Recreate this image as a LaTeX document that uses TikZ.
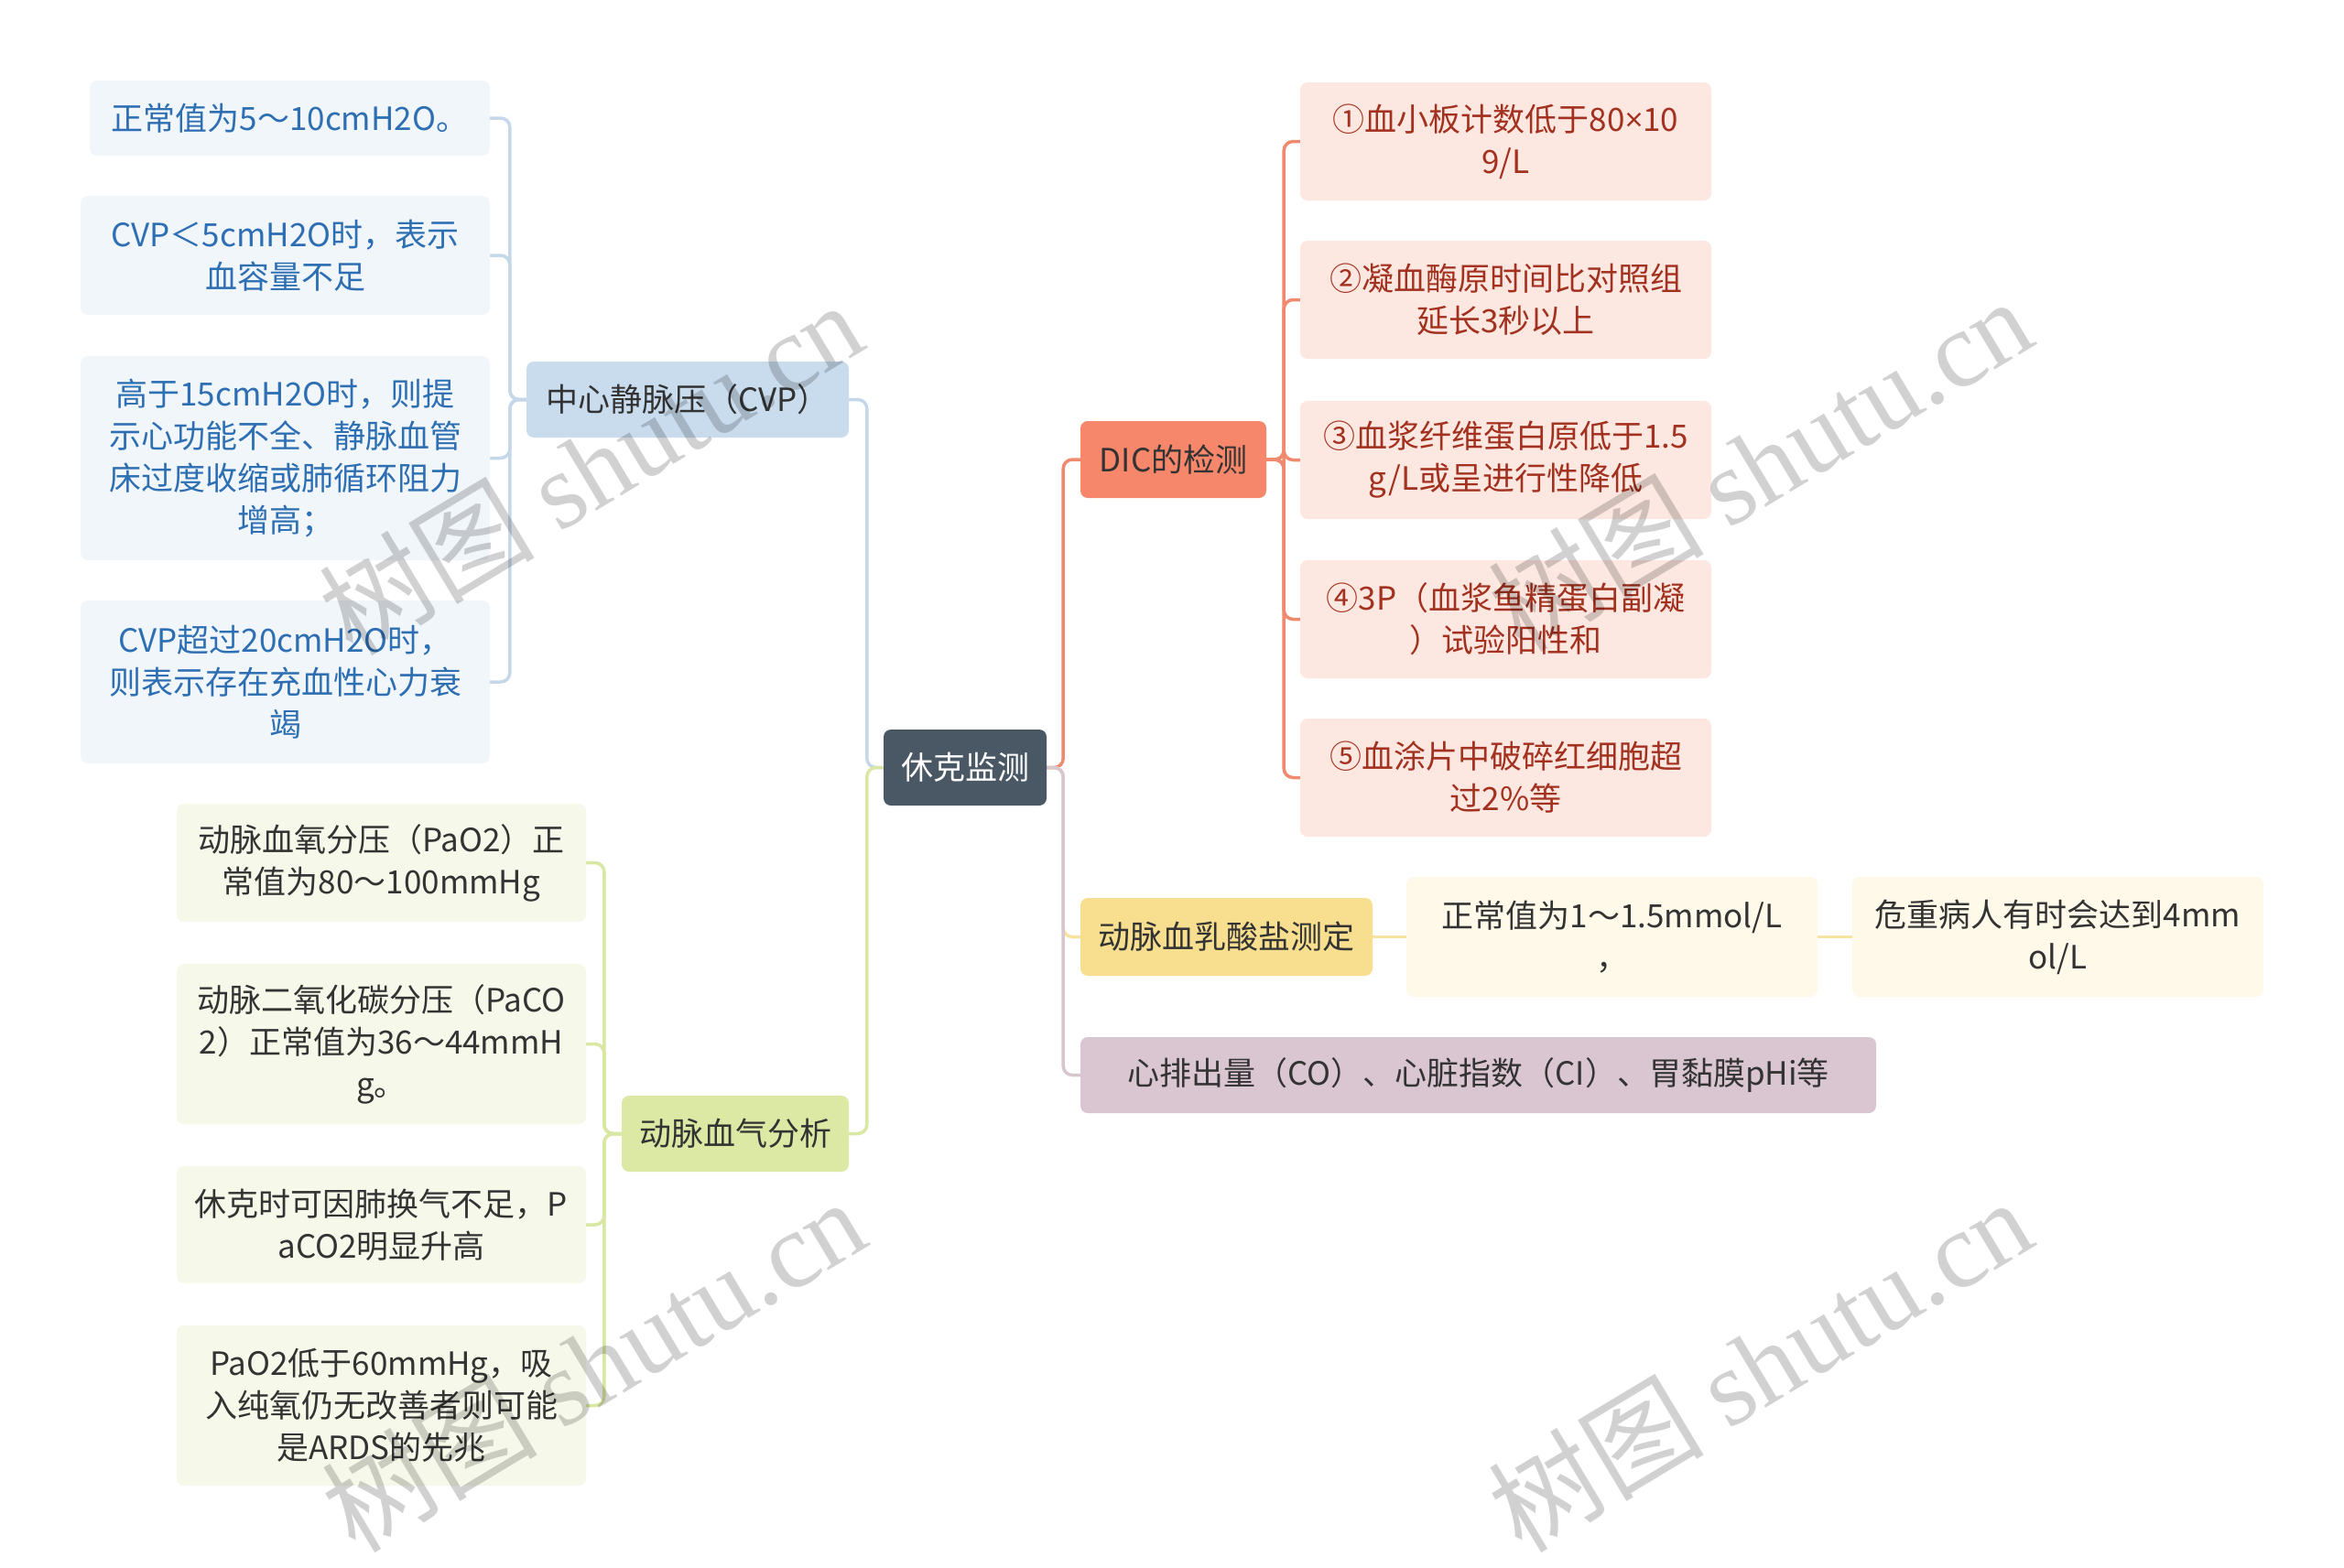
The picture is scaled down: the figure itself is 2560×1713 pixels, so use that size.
\documentclass[tikz,border=0pt]{standalone}
\usepackage{fontspec}
\setmainfont{Noto Sans CJK SC}
\newfontfamily\wmserif{Liberation Serif}
\newfontfamily\latinsans{Open Sans}
\definecolor{rootc}{HTML}{4A5866}
\definecolor{cvpc}{HTML}{C9DCEE}
\definecolor{cvpl}{HTML}{C5D8EA}
\definecolor{cvpleafc}{HTML}{F1F6FB}
\definecolor{cvptxt}{HTML}{2D6FB2}
\definecolor{gasc}{HTML}{DCE9A5}
\definecolor{gasl}{HTML}{D8E7A2}
\definecolor{gasleafc}{HTML}{F6F9EA}
\definecolor{dicc}{HTML}{F7876B}
\definecolor{dicl}{HTML}{F08A6E}
\definecolor{dicleafc}{HTML}{FDE7E1}
\definecolor{dictxt}{HTML}{A3311F}
\definecolor{lacc}{HTML}{F8DF8F}
\definecolor{lacl}{HTML}{F6E3A2}
\definecolor{lacleafc}{HTML}{FEF9E8}
\definecolor{coc}{HTML}{D9C6D0}
\definecolor{col}{HTML}{D8C6CF}
\definecolor{txt}{HTML}{333333}
\pgfdeclarelayer{paper}
\pgfdeclarelayer{lines}
\pgfsetlayers{paper,lines,main}
\begin{document}
\begin{tikzpicture}[x=1pt,y=-1pt,
  box/.style={rectangle, rounded corners=8pt, inner sep=0pt, align=center,
    font=\fontsize{35}{46}\selectfont, text=txt},
  rootbox/.style={box, fill=rootc, text=white},
  cvpbox/.style={box, fill=cvpc},
  cvpleaf/.style={box, fill=cvpleafc, text=cvptxt, minimum width=447},
  gasbox/.style={box, fill=gasc},
  gasleaf/.style={box, fill=gasleafc, minimum width=447},
  dicbox/.style={box, fill=dicc},
  dicleaf/.style={box, fill=dicleafc, text=dictxt, minimum width=449, minimum height=129},
  lacbox/.style={box, fill=lacc},
  lacleaf/.style={box, fill=lacleafc, minimum width=449, minimum height=131},
  cobox/.style={box, fill=coc},
  conn/.style={line width=3.5pt, rounded corners=10pt},
  wm/.style={text=black, text opacity=0.18, font=\fontsize{118}{118}\selectfont, rotate=31, inner sep=0pt}
]
\begin{pgfonlayer}{paper}
\fill[white] (0,0) rectangle (2560,1713);
\end{pgfonlayer}
\useasboundingbox (0,0) rectangle (2560,1713);

% nodes
\node[rootbox, minimum width=178, minimum height=83] (root) at (1054,838.5) {休克监测};

\node[cvpbox, minimum width=352, minimum height=83] (cvp) at (751,436.5) {中心静脉压（CVP）};
\node[cvpleaf, minimum width=437, minimum height=82] (c1) at (316.5,129) {正常值为5～10cmH2O。};
\node[cvpleaf, minimum height=130] (c2) at (311.5,279) {CVP＜5cmH2O时，表示\\血容量不足};
\node[cvpleaf, minimum height=223] (c3) at (311.5,500.5) {高于15cmH2O时，则提\\示心功能不全、静脉血管\\床过度收缩或肺循环阻力\\增高；};
\node[cvpleaf, minimum height=178] (c4) at (311.5,745) {CVP超过20cmH2O时，\\则表示存在充血性心力衰\\竭};

\node[gasbox, minimum width=248, minimum height=83] (gas) at (803,1238.5) {动脉血气分析};
\node[gasleaf, minimum height=129] (g1) at (416.5,942.5) {动脉血氧分压（PaO2）正\\常值为80～100mmHg};
\node[gasleaf, minimum height=175] (g2) at (416.5,1140.5) {动脉二氧化碳分压（PaCO\\2）正常值为36～44mmH\\g。};
\node[gasleaf, minimum height=128] (g3) at (416.5,1338) {休克时可因肺换气不足，P\\aCO2明显升高};
\node[gasleaf, minimum height=175] (g4) at (416.5,1535.5) {PaO2低于60mmHg，吸\\入纯氧仍无改善者则可能\\是ARDS的先兆};

\node[dicbox, minimum width=203, minimum height=84] (dic) at (1281.5,502) {DIC的检测};
\node[dicleaf] (d1) at (1644.5,154.5) {①血小板计数低于80{\latinsans ×}10\\9/L};
\node[dicleaf] (d2) at (1644.5,327.5) {②凝血酶原时间比对照组\\延长3秒以上};
\node[dicleaf] (d3) at (1644.5,502.5) {③血浆纤维蛋白原低于1.5\\g/L或呈进行性降低};
\node[dicleaf] (d4) at (1644.5,676.5) {④3P（血浆鱼精蛋白副凝\\）试验阳性和};
\node[dicleaf] (d5) at (1644.5,849.5) {⑤血涂片中破碎红细胞超\\过2\%等};

\node[lacbox, minimum width=319, minimum height=85] (lac) at (1339.5,1023.5) {动脉血乳酸盐测定};
\node[lacleaf] (l1) at (1760.5,1023.5) {正常值为1～1.5mmol/L\\，};
\node[lacleaf] (l2) at (2247.5,1023.5) {危重病人有时会达到4mm\\ol/L};

\node[cobox, minimum width=869, minimum height=83] (co) at (1614.5,1174.5) {心排出量（CO）、心脏指数（CI）、胃黏膜pHi等};

% connectors
\begin{pgfonlayer}{lines}
\draw[conn, cvpl] (root.west) -- ++(-18,0) |- (cvp.east);
\draw[conn, gasl] (root.west) -- ++(-18,0) |- (gas.east);
\foreach \c in {c1,c2,c3,c4}
  \draw[conn, cvpl] (cvp.west) -- ++(-18,0) |- (\c.east);
\foreach \g in {g1,g2,g3,g4}
  \draw[conn, gasl] (gas.west) -- ++(-19,0) |- (\g.east);
\draw[conn, dicl] (root.east) -- ++(18,0) |- (dic.west);
\draw[conn, lacl] (root.east) -- ++(18,0) |- (lac.west);
\draw[conn, col] (root.east) -- ++(18,0) |- (co.west);
\foreach \d in {d1,d2,d3,d4,d5}
  \draw[conn, dicl] (dic.east) -- ++(19,0) |- (\d.west);
\draw[conn, lacl] (lac.east) -- (l1.west);
\draw[conn, lacl] (l1.east) -- (l2.west);
\end{pgfonlayer}

% watermark
\node[wm] (w1) at (645,510) {树图 {\wmserif shutu.cn}};
\node[wm] (w2) at (1922,506) {树图 {\wmserif shutu.cn}};
\node[wm] (w3) at (648,1490) {树图 {\wmserif shutu.cn}};
\node[wm] (w4) at (1922,1490) {树图 {\wmserif shutu.cn}};
\end{tikzpicture}
\end{document}
